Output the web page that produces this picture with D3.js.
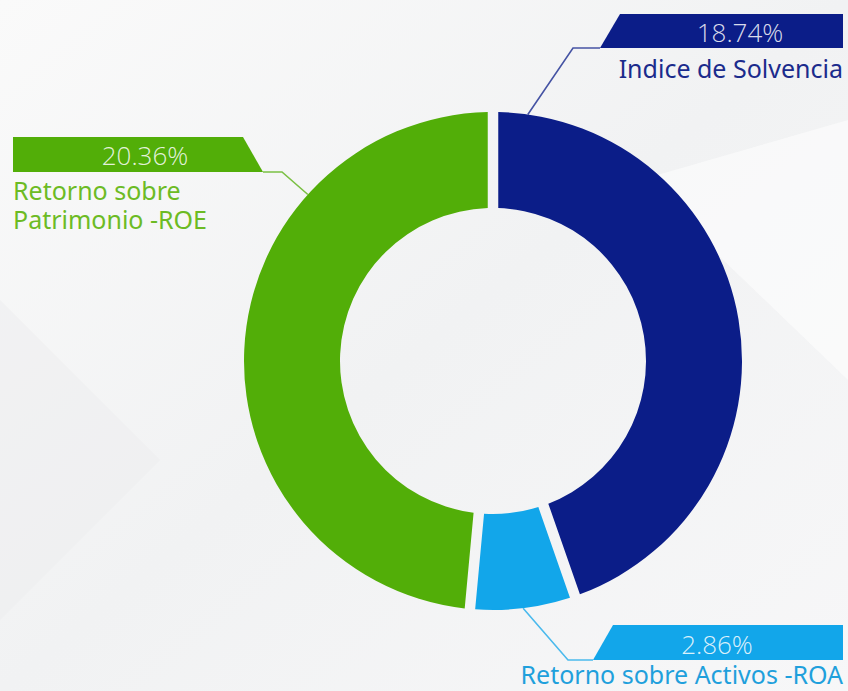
<!DOCTYPE html>
<html>
<head>
<meta charset="utf-8">
<script src="https://cdn.jsdelivr.net/npm/d3@7"></script>
<style>
  html, body { margin: 0; padding: 0; background: #f5f6f7; }
  svg { display: block; }
</style>
</head>
<body>
<div id="chart"></div>
<script>
const names = ["Indice de Solvencia", "Retorno sobre Activos -ROA", "Retorno sobre Patrimonio -ROE"];
const values = [18.74, 2.86, 20.36];
const valueLabels = ["18.74%", "2.86%", "20.36%"];
const colors = ["#0b1d88", "#12a6ea", "#52ae08"];
const textColors = ["#1b2b8c", "#1fa0dc", "#6cbb24"];

const width = 848, height = 691;
const cx = 493, cy = 361;
const outerR = 249, innerR = 153;

const svg = d3.select("#chart").append("svg")
    .attr("width", width)
    .attr("height", height);

// soft background
const defs = svg.append("defs");
const grad = defs.append("linearGradient").attr("id", "bg")
    .attr("x1", 0).attr("y1", 0).attr("x2", 1).attr("y2", 1);
grad.append("stop").attr("offset", "0%").attr("stop-color", "#fafafa");
grad.append("stop").attr("offset", "50%").attr("stop-color", "#f1f2f3");
grad.append("stop").attr("offset", "100%").attr("stop-color", "#f7f7f8");
svg.append("rect").attr("width", width).attr("height", height).attr("fill", "url(#bg)");
svg.append("path")
    .attr("d", "M0,300 L160,460 L0,620 Z")
    .attr("fill", "#ececed").attr("opacity", 0.4);
svg.append("path")
    .attr("d", "M640,180 L848,380 L848,120 Z")
    .attr("fill", "#fdfdfd").attr("opacity", 0.6);

const pie = d3.pie().sort(null).value(d => d);
const arcs = pie(values);

const arc = d3.arc()
    .innerRadius(innerR)
    .outerRadius(outerR)
    .padAngle(0.036);

const g = svg.append("g").attr("transform", `translate(${cx},${cy})`);
g.selectAll("path")
    .data(arcs)
    .enter().append("path")
    .attr("d", arc)
    .attr("fill", (d, i) => colors[i]);

// label layout: banner box, where the leader leaves the ring, elbow
const layout = [
    { anchorFrac: 0.05, elbow: [573, 48], box: [600, 14, 843, 48], slant: "left", text: [740, 42], label: { x: 843, y: 78, anchor: "end", lines: ["Indice de Solvencia"] } },
    { anchorFrac: 0.5, elbow: [568, 660], box: [593, 625, 843, 660], slant: "left", text: [717, 654], label: { x: 843, y: 684, anchor: "end", lines: ["Retorno sobre Activos -ROA"] } },
    { anchorFrac: 0.725, elbow: [282, 172], box: [13, 137, 263, 172], slant: "right", text: [145, 165], label: { x: 13, y: 200, anchor: "start", lines: ["Retorno sobre", "Patrimonio -ROE"] } }
];

arcs.forEach((a, i) => {
    const L = layout[i];
    const ang = a.startAngle + (a.endAngle - a.startAngle) * L.anchorFrac;
    const px = cx + Math.sin(ang) * outerR;
    const py = cy - Math.cos(ang) * outerR;
    const [x0, y0, x1, y1] = L.box;
    const edgeX = L.slant === "left" ? x0 : x1;

    // leader line
    svg.append("polyline")
        .attr("points", `${px},${py} ${L.elbow[0]},${L.elbow[1]} ${edgeX},${L.elbow[1]}`)
        .attr("fill", "none")
        .attr("stroke", colors[i])
        .attr("stroke-opacity", 0.75)
        .attr("stroke-width", 1.6);

    // banner
    let pts;
    if (L.slant === "left") {
        pts = [[x0 + 20, y0], [x1, y0], [x1, y1], [x0, y1]];
    } else {
        pts = [[x0, y0], [x1 - 20, y0], [x1, y1], [x0, y1]];
    }
    svg.append("polygon")
        .attr("points", pts.map(p => p.join(",")).join(" "))
        .attr("fill", colors[i]);

    svg.append("text")
        .attr("x", L.text[0])
        .attr("y", L.text[1])
        .attr("text-anchor", "middle")
        .attr("font-family", "'Open Sans', 'Noto Sans', sans-serif")
        .attr("font-weight", 300)
        .attr("font-size", 26)
        .attr("fill", "#ffffff")
        .attr("fill-opacity", 0.85)
        .text(valueLabels[i]);

    const t = svg.append("text")
        .attr("x", L.label.x)
        .attr("y", L.label.y)
        .attr("text-anchor", L.label.anchor)
        .attr("font-family", "'Noto Sans', 'Open Sans', sans-serif")
        .attr("font-size", 25)
        .attr("fill", textColors[i]);
    L.label.lines.forEach((ln, k) => {
        t.append("tspan")
            .attr("x", L.label.x)
            .attr("dy", k === 0 ? 0 : 29)
            .text(ln);
    });
});
</script>
</body>
</html>
